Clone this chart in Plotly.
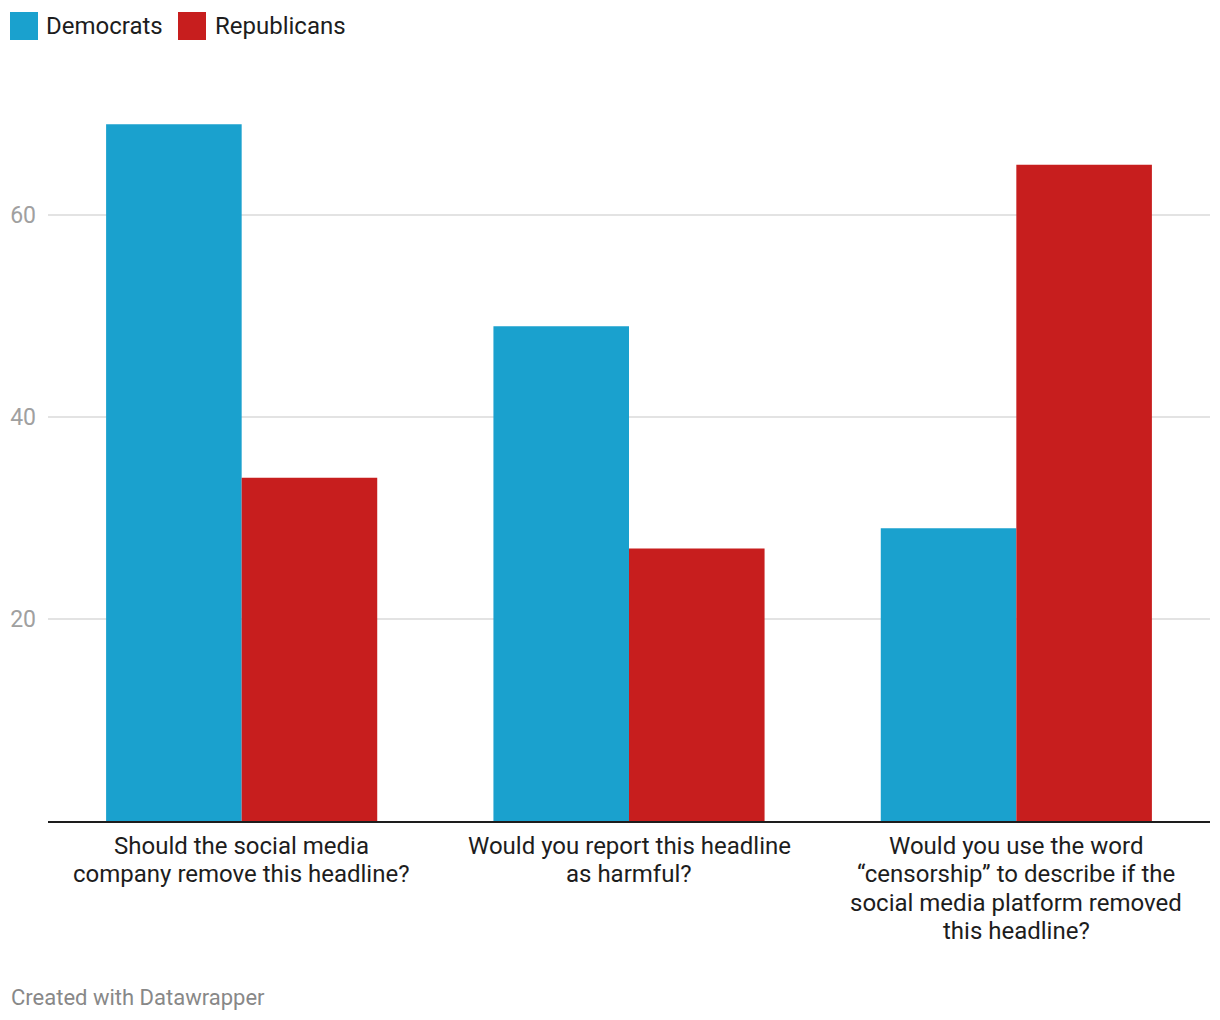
import plotly.graph_objects as go

categories = [
    "Should the social media company remove this headline?",
    "Would you report this headline as harmful?",
    "Would you use the word “censorship” to describe if the social media platform removed this headline?",
]
category_lines = [
    ["Should the social media", "company remove this headline?"],
    ["Would you report this headline", "as harmful?"],
    ["Would you use the word", "“censorship” to describe if the", "social media platform removed", "this headline?"],
]
series_names = ["Democrats", "Republicans"]
democrats = [69, 49, 29]
republicans = [34, 27, 65]
y_ticks = [20, 40, 60]
colors = ["#1aa1ce", "#c71e1e"]

FONT = "Roboto"
# page offset of the figure (body margin) compensated in sizes
W, H = 1212, 1012
PL, PR, PT, PB = 48, 1210, 94, 821  # absolute plot-area edges
PW, PH = PR - PL, PB - PT


def px(x):
    return (x - PL) / PW


def py(y):
    return (PB - y) / PH


fig = go.Figure()
fig.add_trace(go.Bar(x=categories, y=democrats, name=series_names[0],
                     marker=dict(color=colors[0], line=dict(width=0)), showlegend=False))
fig.add_trace(go.Bar(x=categories, y=republicans, name=series_names[1],
                     marker=dict(color=colors[1], line=dict(width=0)), showlegend=False))

shapes = []
annotations = []
legend_sq = [10, 178]
legend_tx = [46, 215]
for i, (nm, c) in enumerate(zip(series_names, colors)):
    x0 = legend_sq[i]
    shapes.append(dict(type="rect", xref="paper", yref="paper",
                       x0=px(x0), x1=px(x0 + 28), y0=py(40), y1=py(12),
                       fillcolor=c, line=dict(width=0)))
    annotations.append(dict(text=nm, xref="paper", yref="paper",
                            x=px(legend_tx[i] - 2), y=py(26),
                            xanchor="left", yanchor="middle", showarrow=False,
                            font=dict(family=FONT, size=24, color="#1d1d1d")))

for cat, lines in zip(categories, category_lines):
    for j, ln in enumerate(lines):
        annotations.append(dict(text=ln, xref="x", yref="paper", x=cat,
                                y=py(846 + 28.3 * j), xanchor="center", yanchor="middle",
                                showarrow=False,
                                font=dict(family=FONT, size=24, color="#1d1d1d")))

annotations.append(dict(text="Created with Datawrapper", xref="paper", yref="paper",
                        x=px(9), y=py(997),
                        xanchor="left", yanchor="middle", showarrow=False,
                        font=dict(family=FONT, size=22, color="#888888")))

fig.update_layout(
    width=W, height=H,
    margin=dict(l=PL - 8, r=8 + W - PR, t=PT - 8, b=8 + H - PB),
    paper_bgcolor="white", plot_bgcolor="white",
    bargap=0.3, bargroupgap=0,
    barmode="group",
    font=dict(family=FONT, color="#1d1d1d"),
    shapes=shapes, annotations=annotations,
    xaxis=dict(showline=True, linecolor="#1d1d1d", linewidth=2, ticks="",
               showgrid=False, showticklabels=False, automargin=False),
    yaxis=dict(range=[0, 72], tickvals=y_ticks, showgrid=True, gridcolor="#e3e3e3",
               gridwidth=2, zeroline=False, showline=False, ticks="",
               ticklabelstandoff=11, automargin=False,
               tickfont=dict(family=FONT, size=23, color="#a0a0a0")),
)

fig.write_html("out.html")
